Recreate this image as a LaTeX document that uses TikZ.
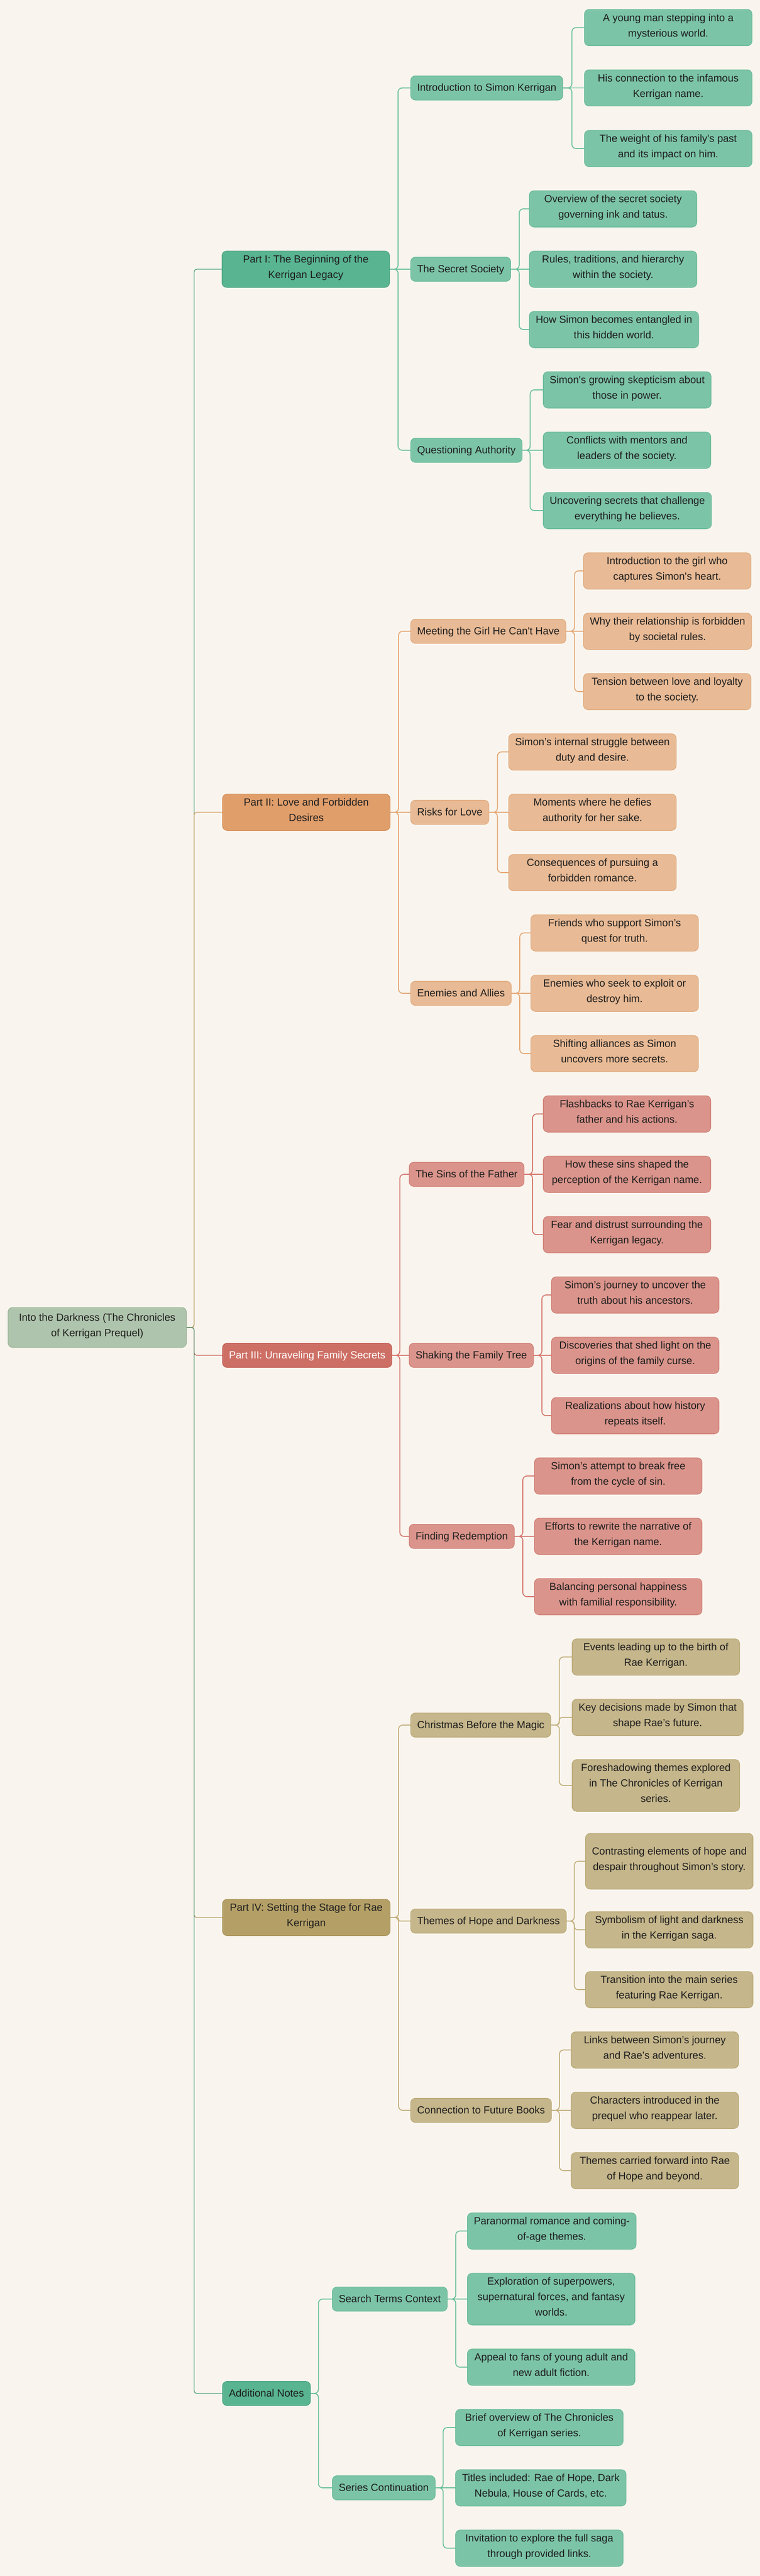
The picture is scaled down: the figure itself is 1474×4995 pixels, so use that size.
\documentclass[tikz,border=0pt]{standalone}
\usepackage{fontspec}
\setmainfont{Liberation Sans}
\usetikzlibrary{backgrounds}
\definecolor{bg}{HTML}{F9F5EE}
\definecolor{txt}{HTML}{1E1E1E}
\definecolor{rootf}{HTML}{AFC4AC}
\definecolor{rootd}{HTML}{94B191}
\definecolor{gAf}{HTML}{58B491}
\definecolor{gAd}{HTML}{49A27F}
\definecolor{gBf}{HTML}{7CC4A8}
\definecolor{gBd}{HTML}{63B894}
\definecolor{oAf}{HTML}{E09E6B}
\definecolor{oAd}{HTML}{D3894F}
\definecolor{oBf}{HTML}{E8BA95}
\definecolor{oBd}{HTML}{E0A87A}
\definecolor{rAf}{HTML}{CD6F65}
\definecolor{rAd}{HTML}{C0544A}
\definecolor{rBf}{HTML}{DA948B}
\definecolor{rBd}{HTML}{D07A70}
\definecolor{tAf}{HTML}{B4A067}
\definecolor{tAd}{HTML}{A58E52}
\definecolor{tBf}{HTML}{C5B68B}
\definecolor{tBd}{HTML}{B8A672}
\definecolor{lg0}{HTML}{4E9E7E}
\definecolor{lo0}{HTML}{D09A5A}
\definecolor{lr0}{HTML}{C4554A}
\definecolor{lt0}{HTML}{B39B5E}
\definecolor{lg}{HTML}{6CC09E}
\definecolor{lo}{HTML}{E5A876}
\definecolor{lr}{HTML}{D5776E}
\definecolor{lt}{HTML}{C4B07E}
\tikzset{
  nbox/.style={draw, rounded corners=9pt, line width=1pt, text=txt,
    font=\fontsize{20}{30}\selectfont, inner xsep=12.5pt, inner ysep=8.5pt,
    anchor=west, execute at begin node=\strut, execute at end node=\strut},
  rootbox/.style={nbox, fill=rootf, draw=rootd, align=center, minimum width=346pt, inner ysep=12pt},
  partbox/.style={nbox, align=center, minimum width=325pt},
  leafbox/.style={nbox, align=center, minimum width=325pt},
  midbox/.style={nbox},
  gA/.style={fill=gAf, draw=gAd}, gB/.style={fill=gBf, draw=gBd},
  oA/.style={fill=oAf, draw=oAd}, oB/.style={fill=oBf, draw=oBd},
  rA/.style={fill=rAf, draw=rAd, text=white}, rB/.style={fill=rBf, draw=rBd},
  tA/.style={fill=tAf, draw=tAd}, tB/.style={fill=tBf, draw=tBd},
  lroot/.style={line width=1.3pt, rounded corners=5pt},
  lk/.style={line width=1.8pt, rounded corners=8pt},
}
\newcommand{\sq}{\textquotesingle}
\begin{document}
\begin{tikzpicture}[x=1pt,y=-1pt]
\useasboundingbox (0,0) rectangle (1474,4995);
% root
\node[rootbox] (root) at (15,2574) {Into the Darkness (The Chronicles\\of Kerrigan Prequel)};
% parts
\node[partbox,gA] (p1) at (430,522) {Part I: The Beginning of the\\Kerrigan Legacy};
\node[partbox,oA] (p2) at (431,1575) {Part II: Love and Forbidden\\Desires};
\node[midbox,rA] (p3) at (431,2628) {Part III: Unraveling Family Secrets};
\node[partbox,tA] (p4) at (431,3718) {Part IV: Setting the Stage for Rae\\Kerrigan};
\node[midbox,gA] (p5) at (431,4641) {Additional Notes};
% level 2
\node[midbox,gB] (a1) at (796,170.5) {Introduction to Simon Kerrigan};
\node[midbox,gB] (a2) at (796,522) {The Secret Society};
\node[midbox,gB] (a3) at (796,873) {Questioning Authority};
\node[midbox,oB] (b1) at (796,1224) {Meeting the Girl He Can\sq t Have};
\node[midbox,oB] (b2) at (796,1575) {Risks for Love};
\node[midbox,oB] (b3) at (796,1926) {Enemies and Allies};
\node[midbox,rB] (c1) at (793,2277) {The Sins of the Father};
\node[midbox,rB] (c2) at (793,2628) {Shaking the Family Tree};
\node[midbox,rB] (c3) at (793,2979) {Finding Redemption};
\node[midbox,tB] (d1) at (796,3345) {Christmas Before the Magic};
\node[midbox,tB] (d2) at (796,3725) {Themes of Hope and Darkness};
\node[midbox,tB] (d3) at (796,4092) {Connection to Future Books};
\node[midbox,gB] (e1) at (644,4458) {Search Terms Context};
\node[midbox,gB] (e2) at (644,4824) {Series Continuation};
% leaves
\node[leafbox,gB] (a11) at (1133,53.5) {A young man stepping into a\\mysterious world.};
\node[leafbox,gB] (a12) at (1133,170.5) {His connection to the infamous\\Kerrigan name.};
\node[leafbox,gB] (a13) at (1133,288) {The weight of his family\sq s past\\and its impact on him.};
\node[leafbox,gB] (a21) at (1026,405) {Overview of the secret society\\governing ink and tatus.};
\node[leafbox,gB] (a22) at (1026,522) {Rules, traditions, and hierarchy\\within the society.};
\node[leafbox,gB] (a23) at (1026,639) {How Simon becomes entangled in\\this hidden world.};
\node[leafbox,gB] (a31) at (1053,756) {Simon\sq s growing skepticism about\\those in power.};
\node[leafbox,gB] (a32) at (1053,873) {Conflicts with mentors and\\leaders of the society.};
\node[leafbox,gB] (a33) at (1053,990) {Uncovering secrets that challenge\\everything he believes.};
\node[leafbox,oB] (b11) at (1131,1107) {Introduction to the girl who\\captures Simon\sq s heart.};
\node[leafbox,oB] (b12) at (1131,1224) {Why their relationship is forbidden\\by societal rules.};
\node[leafbox,oB] (b13) at (1131,1341) {Tension between love and loyalty\\to the society.};
\node[leafbox,oB] (b21) at (986,1458) {Simon’s internal struggle between\\duty and desire.};
\node[leafbox,oB] (b22) at (986,1575) {Moments where he defies\\authority for her sake.};
\node[leafbox,oB] (b23) at (986,1692) {Consequences of pursuing a\\forbidden romance.};
\node[leafbox,oB] (b31) at (1029,1809) {Friends who support Simon’s\\quest for truth.};
\node[leafbox,oB] (b32) at (1029,1926) {Enemies who seek to exploit or\\destroy him.};
\node[leafbox,oB] (b33) at (1029,2043) {Shifting alliances as Simon\\uncovers more secrets.};
\node[leafbox,rB] (c11) at (1053,2160) {Flashbacks to Rae Kerrigan’s\\father and his actions.};
\node[leafbox,rB] (c12) at (1053,2277) {How these sins shaped the\\perception of the Kerrigan name.};
\node[leafbox,rB] (c13) at (1053,2394) {Fear and distrust surrounding the\\Kerrigan legacy.};
\node[leafbox,rB] (c21) at (1069,2511) {Simon’s journey to uncover the\\truth about his ancestors.};
\node[leafbox,rB] (c22) at (1069,2628) {Discoveries that shed light on the\\origins of the family curse.};
\node[leafbox,rB] (c23) at (1069,2745) {Realizations about how history\\repeats itself.};
\node[leafbox,rB] (c31) at (1036,2862) {Simon’s attempt to break free\\from the cycle of sin.};
\node[leafbox,rB] (c32) at (1036,2979) {Efforts to rewrite the narrative of\\the Kerrigan name.};
\node[leafbox,rB] (c33) at (1036,3096) {Balancing personal happiness\\with familial responsibility.};
\node[leafbox,tB] (d11) at (1109,3213) {Events leading up to the birth of\\Rae Kerrigan.};
\node[leafbox,tB] (d12) at (1109,3330) {Key decisions made by Simon that\\shape Rae’s future.};
\node[leafbox,tB] (d13) at (1109,3462) {Foreshadowing themes explored\\in The Chronicles of Kerrigan\\series.};
\node[leafbox,tB,minimum height=108pt] (d21) at (1135,3609) {Contrasting elements of hope and\\despair throughout Simon’s story.};
\node[leafbox,tB] (d22) at (1135,3742) {Symbolism of light and darkness\\in the Kerrigan saga.};
\node[leafbox,tB] (d23) at (1135,3858) {Transition into the main series\\featuring Rae Kerrigan.};
\node[leafbox,tB] (d31) at (1107,3975) {Links between Simon’s journey\\and Rae’s adventures.};
\node[leafbox,tB] (d32) at (1107,4092) {Characters introduced in the\\prequel who reappear later.};
\node[leafbox,tB] (d33) at (1107,4209) {Themes carried forward into Rae\\of Hope and beyond.};
\node[leafbox,gB] (e11) at (906,4326) {Paranormal romance and coming-\\of-age themes.};
\node[leafbox,gB] (e12) at (906,4458) {Exploration of superpowers,\\supernatural forces, and fantasy\\worlds.};
\node[leafbox,gB] (e13) at (906,4590) {Appeal to fans of young adult and\\new adult fiction.};
\node[leafbox,gB] (e21) at (883,4707) {Brief overview of The Chronicles\\of Kerrigan series.};
\node[leafbox,gB] (e22) at (883,4824) {Titles included: Rae of Hope, Dark\\Nebula, House of Cards, etc.};
\node[leafbox,gB] (e23) at (883,4941) {Invitation to explore the full saga\\through provided links.};
\begin{pgfonlayer}{background}
\fill[bg] (0,0) rectangle (1474,4995);
% root edges
\draw[lroot,draw=lg0] (root.east) -- ++(14.5,0) |- (p1.west);
\draw[lroot,draw=lo0] (root.east) -- ++(14.5,0) |- (p2.west);
\draw[lroot,draw=lr0] (root.east) -- ++(14.5,0) |- (p3.west);
\draw[lroot,draw=lt0] (root.east) -- ++(14.5,0) |- (p4.west);
\draw[lroot,draw=lg0] (root.east) -- ++(14.5,0) |- (p5.west);
% part I
\draw[lk,draw=lg] (p1.east) -- ++(16,0) |- (a1.west);
\draw[lk,draw=lg] (p1.east) -- (a2.west);
\draw[lk,draw=lg] (p1.east) -- ++(16,0) |- (a3.west);
\draw[lk,draw=lg] (a1.east) -- ++(17,0) |- (a11.west);
\draw[lk,draw=lg] (a1.east) -- (a12.west);
\draw[lk,draw=lg] (a1.east) -- ++(17,0) |- (a13.west);
\draw[lk,draw=lg] (a2.east) -- ++(16,0) |- (a21.west);
\draw[lk,draw=lg] (a2.east) -- (a22.west);
\draw[lk,draw=lg] (a2.east) -- ++(16,0) |- (a23.west);
\draw[lk,draw=lg] (a3.east) -- ++(15,0) |- (a31.west);
\draw[lk,draw=lg] (a3.east) -- (a32.west);
\draw[lk,draw=lg] (a3.east) -- ++(15,0) |- (a33.west);
% part II
\draw[lk,draw=lo] (p2.east) -- ++(16,0) |- (b1.west);
\draw[lk,draw=lo] (p2.east) -- (b2.west);
\draw[lk,draw=lo] (p2.east) -- ++(16,0) |- (b3.west);
\draw[lk,draw=lo] (b1.east) -- ++(16,0) |- (b11.west);
\draw[lk,draw=lo] (b1.east) -- (b12.west);
\draw[lk,draw=lo] (b1.east) -- ++(16,0) |- (b13.west);
\draw[lk,draw=lo] (b2.east) -- ++(16,0) |- (b21.west);
\draw[lk,draw=lo] (b2.east) -- (b22.west);
\draw[lk,draw=lo] (b2.east) -- ++(16,0) |- (b23.west);
\draw[lk,draw=lo] (b3.east) -- ++(16,0) |- (b31.west);
\draw[lk,draw=lo] (b3.east) -- (b32.west);
\draw[lk,draw=lo] (b3.east) -- ++(16,0) |- (b33.west);
% part III
\draw[lk,draw=lr] (p3.east) -- ++(15,0) |- (c1.west);
\draw[lk,draw=lr] (p3.east) -- (c2.west);
\draw[lk,draw=lr] (p3.east) -- ++(15,0) |- (c3.west);
\draw[lk,draw=lr] (c1.east) -- ++(16,0) |- (c11.west);
\draw[lk,draw=lr] (c1.east) -- (c12.west);
\draw[lk,draw=lr] (c1.east) -- ++(16,0) |- (c13.west);
\draw[lk,draw=lr] (c2.east) -- ++(16,0) |- (c21.west);
\draw[lk,draw=lr] (c2.east) -- (c22.west);
\draw[lk,draw=lr] (c2.east) -- ++(16,0) |- (c23.west);
\draw[lk,draw=lr] (c3.east) -- ++(16,0) |- (c31.west);
\draw[lk,draw=lr] (c3.east) -- (c32.west);
\draw[lk,draw=lr] (c3.east) -- ++(16,0) |- (c33.west);
% part IV
\draw[lk,draw=lt] (p4.east) -- ++(16,0) |- (d1.west);
\draw[lk,draw=lt,rounded corners=3pt] (p4.east) -- ++(16,0) |- (d2.west);
\draw[lk,draw=lt] (p4.east) -- ++(16,0) |- (d3.west);
\draw[lk,draw=lt] (d1.east) -- ++(16,0) |- (d11.west);
\draw[lk,draw=lt,rounded corners=6pt] (d1.east) -- ++(16,0) |- (d12.west);
\draw[lk,draw=lt] (d1.east) -- ++(16,0) |- (d13.west);
\draw[lk,draw=lt] (d2.east) -- ++(15,0) |- (d21.west);
\draw[lk,draw=lt,rounded corners=7pt] (d2.east) -- ++(15,0) |- (d22.west);
\draw[lk,draw=lt] (d2.east) -- ++(15,0) |- (d23.west);
\draw[lk,draw=lt] (d3.east) -- ++(15,0) |- (d31.west);
\draw[lk,draw=lt] (d3.east) -- (d32.west);
\draw[lk,draw=lt] (d3.east) -- ++(15,0) |- (d33.west);
% additional notes
\draw[lk,draw=lg] (p5.east) -- ++(15,0) |- (e1.west);
\draw[lk,draw=lg] (p5.east) -- ++(15,0) |- (e2.west);
\draw[lk,draw=lg] (e1.east) -- ++(16,0) |- (e11.west);
\draw[lk,draw=lg] (e1.east) -- (e12.west);
\draw[lk,draw=lg] (e1.east) -- ++(16,0) |- (e13.west);
\draw[lk,draw=lg] (e2.east) -- ++(15,0) |- (e21.west);
\draw[lk,draw=lg] (e2.east) -- (e22.west);
\draw[lk,draw=lg] (e2.east) -- ++(15,0) |- (e23.west);
\end{pgfonlayer}
\end{tikzpicture}
\end{document}
